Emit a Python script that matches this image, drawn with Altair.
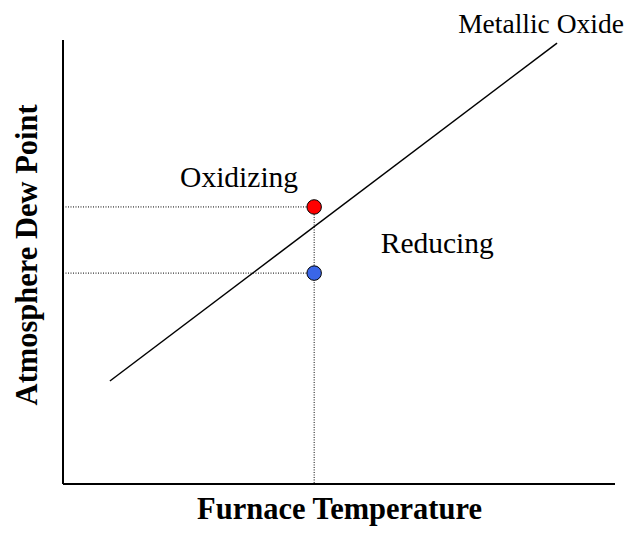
import altair as alt
import pandas as pd

# Data coordinates (0-100 on both axes)
line_x = [8.5, 89.5]
line_y = [23.2, 99.3]

point_labels = ["Oxidizing point", "Reducing point"]
point_x = [45.5, 45.5]
point_y = [62.4, 47.5]
point_colors = ["#ff0000", "#3a66e8"]

region_labels = ["Oxidizing", "Reducing"]
region_x = [31.9, 67.8]
region_y = [66.9, 52.0]

curve_label = ["Metallic Oxide"]
curve_label_x = [86.6]
curve_label_y = [101.6]

x_title = "Furnace Temperature"
y_title = "Atmosphere Dew Point"

FONT = "Liberation Serif"

xs = alt.Scale(domain=[0, 100])
ys = alt.Scale(domain=[0, 100])

line_df = pd.DataFrame({"x": line_x, "y": line_y})
pts_df = pd.DataFrame({"label": point_labels, "x": point_x, "y": point_y, "color": point_colors})
txt_df = pd.DataFrame({"label": region_labels, "x": region_x, "y": region_y})
cl_df = pd.DataFrame({"label": curve_label, "x": curve_label_x, "y": curve_label_y})

# axis lines
axes_df = pd.DataFrame({"x": [0, 0], "y": [0, 0], "x2": [0, 100], "y2": [100, 0]})
axes = alt.Chart(axes_df).mark_rule(color="black", strokeWidth=2).encode(
    x=alt.X("x:Q", scale=xs, axis=None),
    y=alt.Y("y:Q", scale=ys, axis=None),
    x2="x2:Q",
    y2="y2:Q",
)

# dotted guides
guide_df = pd.DataFrame({
    "x": [0, 0, point_x[0]],
    "y": [point_y[0], point_y[1], point_y[0]],
    "x2": [point_x[0], point_x[1], point_x[0]],
    "y2": [point_y[0], point_y[1], 0],
})
guides = alt.Chart(guide_df).mark_rule(color="black", strokeWidth=1, strokeDash=[1, 1.5]).encode(
    x=alt.X("x:Q", scale=xs, axis=None),
    y=alt.Y("y:Q", scale=ys, axis=None),
    x2="x2:Q",
    y2="y2:Q",
)

line = alt.Chart(line_df).mark_line(color="black", strokeWidth=1.5).encode(
    x=alt.X("x:Q", scale=xs, axis=None),
    y=alt.Y("y:Q", scale=ys, axis=None),
)

points = alt.Chart(pts_df).mark_point(shape="circle", filled=True, size=210, stroke="black",
                                      strokeWidth=1, opacity=1).encode(
    x=alt.X("x:Q", scale=xs, axis=None),
    y=alt.Y("y:Q", scale=ys, axis=None),
    fill=alt.Fill("color:N", scale=None),
)

labels = alt.Chart(txt_df).mark_text(font=FONT, fontSize=29.5, color="black",
                                     align="center", baseline="alphabetic").encode(
    x=alt.X("x:Q", scale=xs, axis=None),
    y=alt.Y("y:Q", scale=ys, axis=None),
    text="label:N",
)

curve_text = alt.Chart(cl_df).mark_text(font=FONT, fontSize=27.5, color="black",
                                        align="center", baseline="alphabetic").encode(
    x=alt.X("x:Q", scale=xs, axis=None),
    y=alt.Y("y:Q", scale=ys, axis=None),
    text="label:N",
)

xt_df = pd.DataFrame({"label": [x_title], "x": [50.1], "y": [-7.9]})
xtitle = alt.Chart(xt_df).mark_text(font=FONT, fontSize=30.5, fontWeight="bold", color="black",
                                    align="center", baseline="alphabetic").encode(
    x=alt.X("x:Q", scale=xs, axis=None),
    y=alt.Y("y:Q", scale=ys, axis=None),
    text="label:N",
)

yt_df = pd.DataFrame({"label": [y_title], "x": [-4.7], "y": [51.6]})
ytitle = alt.Chart(yt_df).mark_text(font=FONT, fontSize=30.5, fontWeight="bold", color="black",
                                    align="center", baseline="alphabetic", angle=270).encode(
    x=alt.X("x:Q", scale=xs, axis=None),
    y=alt.Y("y:Q", scale=ys, axis=None),
    text="label:N",
)

chart = alt.layer(axes, guides, line, points, labels, curve_text, xtitle, ytitle).properties(
    width=552,
    height=444,
    autosize=alt.AutoSizeParams(type="none"),
    padding={"left": 55, "top": 32, "right": 20, "bottom": 44},
).configure_view(stroke=None)

chart.save("out.html", embed_options={"renderer": "svg", "actions": False})
